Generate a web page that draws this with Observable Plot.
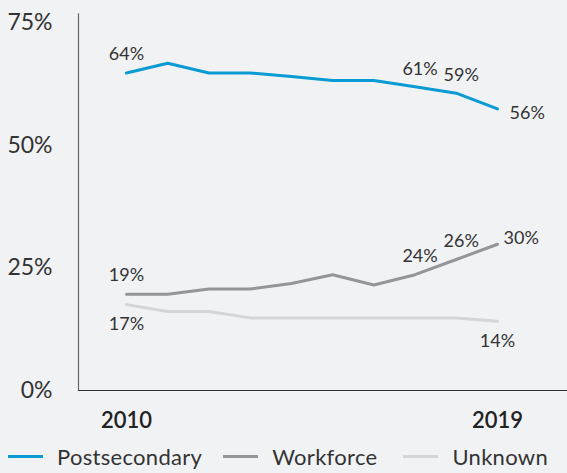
<!DOCTYPE html>
<html>
<head>
<meta charset="utf-8">
<script src="https://cdn.jsdelivr.net/npm/d3@7"></script>
<script src="https://cdn.jsdelivr.net/npm/@observablehq/plot@0.6"></script>
<style>
  html, body { margin: 0; padding: 0; background: #f1f2f4; }
  body { width: 567px; height: 473px; overflow: hidden; font-family: Lato, "Open Sans", sans-serif; }
  #legend { display: flex; align-items: center; height: 33px; font-size: 22px; letter-spacing: 0.3px; color: #333; }
  .item { display: flex; align-items: center; }
  .sw { width: 35px; height: 3px; display: inline-block; margin-right: 14px; }
</style>
</head>
<body>
<div id="chart"></div>
<div id="legend"></div>
<script>
const years = [2010, 2011, 2012, 2013, 2014, 2015, 2016, 2017, 2018, 2019];
const seriesNames = ["Postsecondary", "Workforce", "Unknown"];
const postsecondary = [64.7, 66.7, 64.7, 64.7, 64.0, 63.2, 63.2, 61.9, 60.6, 57.4];
const workforce     = [19.6, 19.6, 20.7, 20.7, 21.8, 23.6, 21.5, 23.6, 26.7, 29.8];
const unknown       = [17.5, 16.1, 16.1, 14.8, 14.8, 14.8, 14.8, 14.8, 14.8, 14.1];
const colors = ["#0a9bd5", "#939598", "#d3d5d8"];
const yTicks = [0, 25, 50, 75];
const yTickLabels = ["0%", "25%", "50%", "75%"];
const xTicks = [2010, 2019];

// data labels
const postLabelYears = [2010, 2017, 2018, 2019];
const postLabelText = ["64%", "61%", "59%", "56%"];
const workLabelYears = [2010, 2017, 2018, 2019];
const workLabelText = ["19%", "24%", "26%", "30%"];
const unkLabelYears = [2010, 2019];
const unkLabelText = ["17%", "14%"];

const allValues = [postsecondary, workforce, unknown];
const rows = [];
seriesNames.forEach((s, i) => years.forEach((yr, j) => rows.push({series: s, year: yr, value: allValues[i][j]})));

function labelRows(series, vals, lYears, lText) {
  return lYears.map((yr, k) => ({series, year: yr, value: vals[years.indexOf(yr)], text: lText[k]}));
}
const postL = labelRows("Postsecondary", postsecondary, postLabelYears, postLabelText);
const workL = labelRows("Workforce", workforce, workLabelYears, workLabelText);
const unkL = labelRows("Unknown", unknown, unkLabelYears, unkLabelText);
const firstAbove = [postL[0], workL[0]];
const midAbove = [postL[1], postL[2], workL[1], workL[2]];

const xDomain = [2008.836, 2020.698];

const chart = Plot.plot({
  width: 567,
  height: 440,
  marginLeft: 78,
  marginRight: 0,
  marginTop: 22,
  marginBottom: 50,
  style: {background: "#f1f2f4", fontFamily: "Lato, 'Open Sans', sans-serif", color: "#333"},
  x: {domain: xDomain, ticks: xTicks, tickFormat: d => String(d)},
  y: {domain: [0, 75], ticks: yTicks},
  color: {domain: seriesNames, range: colors},
  marks: [
    Plot.axisY({ticks: yTicks, tickFormat: (d) => yTickLabels[yTicks.indexOf(d)], tickSize: 0, tickPadding: 26, fontSize: 23, fill: "#333", label: null}),
    Plot.axisX({ticks: xTicks, tickFormat: d => String(d), tickSize: 0, tickPadding: 22, fontSize: 22, fontWeight: 600, fill: "#222", label: null}),
    Plot.ruleX([xDomain[0]], {y1: 0, y2: 76.8, stroke: "#666", strokeWidth: 1.2}),
    Plot.ruleY([0], {stroke: "#333", strokeWidth: 1.2}),
    Plot.line(rows, {x: "year", y: "value", z: "series", stroke: "series", strokeWidth: 3, strokeLinejoin: "miter"}),
    Plot.text(firstAbove, {x: "year", y: "value", text: "text", dy: -19, fontSize: 18, fill: "#333"}),
    Plot.text(midAbove, {x: "year", y: "value", text: "text", dy: -18, dx: 5, fontSize: 18, fill: "#333"}),
    Plot.text([postL[3]], {x: "year", y: "value", text: "text", dy: 4, dx: 12, textAnchor: "start", fontSize: 18, fill: "#333"}),
    Plot.text([workL[3]], {x: "year", y: "value", text: "text", dy: -6, dx: 6, textAnchor: "start", fontSize: 18, fill: "#333"}),
    Plot.text(unkL, {x: "year", y: "value", text: "text", dy: 20, fontSize: 18, fill: "#333"})
  ]
});
document.getElementById("chart").appendChild(chart);

const legend = document.getElementById("legend");
const legendOffsets = [8, 21, 26];
seriesNames.forEach((s, i) => {
  const item = document.createElement("div");
  item.className = "item";
  item.style.marginLeft = legendOffsets[i] + "px";
  const sw = document.createElement("span");
  sw.className = "sw";
  sw.style.background = colors[i];
  const t = document.createElement("span");
  t.textContent = s;
  item.appendChild(sw);
  item.appendChild(t);
  legend.appendChild(item);
});
</script>
</body>
</html>
